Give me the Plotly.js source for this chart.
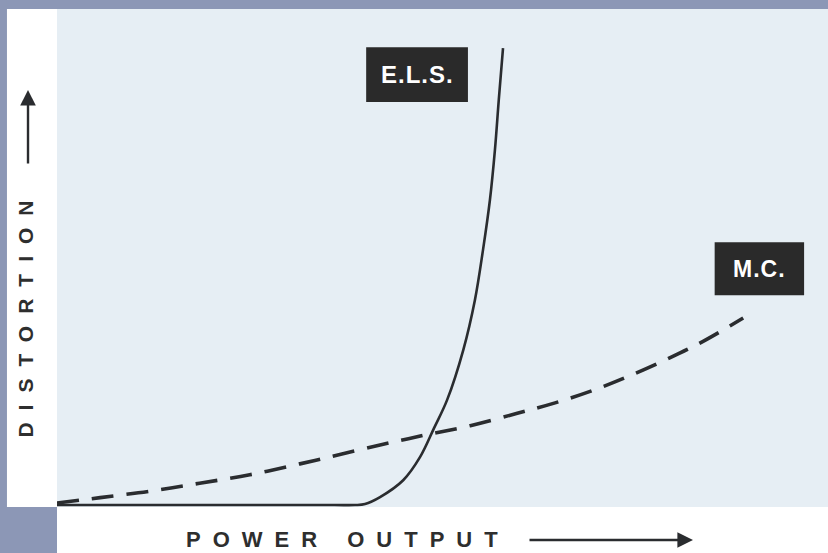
<!DOCTYPE html>
<html>
<head>
<meta charset="utf-8">
<script src="https://cdn.plot.ly/plotly-3.0.1.min.js"></script>
<style>
  html, body { margin: 0; padding: 0; background: #ffffff; }
  #chart { width: 828px; height: 553px; }
  .annotation[data-index="0"] text, .annotation[data-index="1"] text { letter-spacing: 12px; }
  .annotation[data-index="4"] text, .annotation[data-index="5"] text { letter-spacing: 1px; }
</style>
</head>
<body>
<div id="chart"></div>
<script>
// Power output (relative units, 0-100) vs distortion (relative units, 0-100)
const elsPower = [0, 20, 36, 38.65, 39.95, 41.9, 44.9, 47.1, 48.9, 50.6, 52.7, 54.2, 55.25, 56.15, 56.8, 57.3, 57.85];
const elsDistortion = [0, 0, 0, 0, 0.2, 1.6, 5.0, 9.7, 15.5, 21.2, 31.3, 41.3, 51.4, 61.5, 71.6, 81.7, 92.1];

const mcPower = [0, 5.6, 12.1, 18.5, 25.0, 31.5, 35.4, 41.9, 47.7, 53.6, 59.7, 64.6, 69.5, 74.2, 79.4, 83.8, 89.0];
const mcDistortion = [0.4, 1.5, 2.8, 4.4, 6.1, 8.3, 9.7, 12.1, 14.1, 16.0, 18.5, 20.6, 23.1, 26.0, 29.6, 33.0, 37.7];

const seriesNames = ["E.L.S.", "M.C."];
const xAxisLabel = "POWER OUTPUT";
const yAxisLabel = "DISTORTION";

const ink = "#2a2c2f";
const stripColor = "#8c97b6";
const fieldColor = "#e6eef4";

const traces = [
  { x: elsPower, y: elsDistortion, type: "scatter", mode: "lines", name: seriesNames[0],
    line: { color: ink, width: 2.6, shape: "spline", smoothing: 1 }, hoverinfo: "skip" },
  { x: mcPower, y: mcDistortion, type: "scatter", mode: "lines", name: seriesNames[1],
    line: { color: ink, width: 3.6, dash: "22px,13px", shape: "spline", smoothing: 1 }, hoverinfo: "skip" }
];

const layout = {
  width: 828, height: 553,
  margin: { l: 57, r: 0, t: 9, b: 43, pad: 0 },
  paper_bgcolor: "#ffffff",
  plot_bgcolor: "rgba(0,0,0,0)",
  showlegend: false,
  xaxis: { range: [0, 100], showgrid: false, zeroline: false, showticklabels: false, ticks: "", showline: false, fixedrange: true },
  yaxis: { range: [-1, 100], showgrid: false, zeroline: false, showticklabels: false, ticks: "", showline: false, fixedrange: true },
  shapes: [
    { type: "rect", xref: "paper", yref: "paper", x0: 0, x1: 1.01, y0: 0.006, y1: 1.0, fillcolor: fieldColor, line: { width: 0 }, layer: "below" },
    { type: "rect", xref: "paper", yref: "paper", x0: -0.08, x1: 1.01, y0: 1.0, y1: 1.03, fillcolor: stripColor, line: { width: 0 }, layer: "below" },
    { type: "rect", xref: "paper", yref: "paper", x0: -0.08, x1: -0.0649, y0: -0.1, y1: 1.03, fillcolor: stripColor, line: { width: 0 }, layer: "below" },
    { type: "rect", xref: "paper", yref: "paper", x0: -0.08, x1: 0, y0: -0.1, y1: 0.006, fillcolor: stripColor, line: { width: 0 }, layer: "below" },
    { type: "rect", xref: "x", yref: "y", x0: 40.1, x1: 53.3, y0: 81.25, y1: 92.3, fillcolor: "#2a2a2a", line: { width: 0 } },
    { type: "rect", xref: "x", yref: "y", x0: 85.3, x1: 96.9, y0: 42.3, y1: 53.0, fillcolor: "#2a2a2a", line: { width: 0 } }
  ],
  annotations: [
    { text: xAxisLabel, xref: "paper", yref: "paper", x: 0.378, y: -0.058, xanchor: "center", yanchor: "middle",
      showarrow: false, font: { family: "Liberation Sans, Arial, sans-serif", size: 22, color: "#2e2e2e", weight: "bold" } },
    { text: yAxisLabel, xref: "paper", yref: "paper", x: -0.0402, y: 0.392, xanchor: "center", yanchor: "middle", textangle: -90,
      showarrow: false, font: { family: "Liberation Sans, Arial, sans-serif", size: 21, color: "#2e2e2e", weight: "bold" } },
    { text: "", xref: "paper", yref: "paper", x: 0.8249, y: -0.0599, axref: "pixel", ayref: "pixel", ax: -165, ay: 0,
      showarrow: true, arrowhead: 2, arrowsize: 1.3, arrowwidth: 2.4, arrowcolor: ink },
    { text: "", xref: "paper", yref: "paper", x: -0.0376, y: 0.8383, axref: "pixel", ayref: "pixel", ax: 0, ay: 75,
      showarrow: true, arrowhead: 2, arrowsize: 1.3, arrowwidth: 2.4, arrowcolor: ink },
    { text: seriesNames[0], xref: "x", yref: "y", x: 46.7, y: 86.7, xanchor: "center", yanchor: "middle", showarrow: false,
      font: { family: "Liberation Sans, Arial, sans-serif", size: 24, color: "#ffffff", weight: "bold" } },
    { text: seriesNames[1], xref: "x", yref: "y", x: 91.1, y: 47.6, xanchor: "center", yanchor: "middle", showarrow: false,
      font: { family: "Liberation Sans, Arial, sans-serif", size: 23, color: "#ffffff", weight: "bold" } }
  ]
};

Plotly.newPlot("chart", traces, layout, { displayModeBar: false, staticPlot: true });
</script>
</body>
</html>
